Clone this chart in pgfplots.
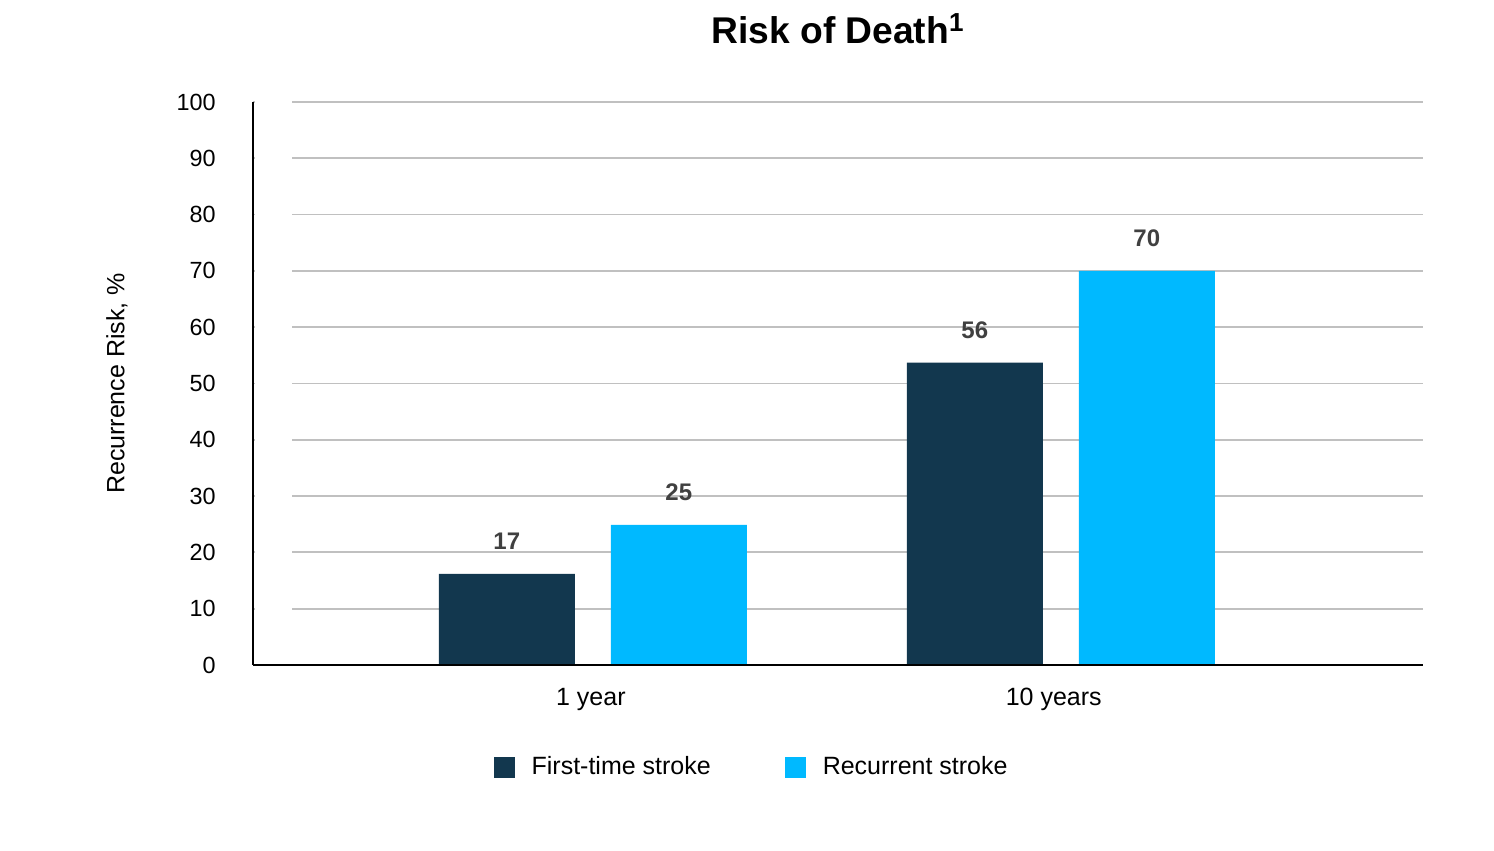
\documentclass[border=0pt]{standalone}
\usepackage{fontspec}
\setmainfont{Liberation Sans}
\usepackage{pgfplots}
\usepackage{pgfplotstable}
\pgfplotsset{compat=1.18}
\definecolor{navy}{HTML}{12374E}
\definecolor{sky}{HTML}{00B9FF}
\definecolor{gridgray}{HTML}{C0C0C0}
\definecolor{lblgray}{HTML}{404040}

\pgfplotstableread{
x y l
0 16.2 17
1 53.7 56
}\first
\pgfplotstableread{
x y l
0 24.9 25
1 70.0 70
}\recur

\begin{document}
\begin{tikzpicture}
\begin{axis}[
 scale only axis, width=585pt, height=281.5pt,
 xmin=-0.726, xmax=1.774, ymin=0, ymax=100,
 axis x line*=bottom, axis y line*=left,
 axis line style={black, line width=1pt, -},
 ybar, bar width=68pt,
 xtick={-0.004,0.985}, xticklabels={1 year,10 years},
 ytick={0,10,...,100},
 major tick length=0pt,
 ymajorgrids, major grid style={gridgray, line width=0.9pt},
 /pgf/number format/assume math mode=true,
 yticklabel style={font=\fontsize{11.7}{14}\selectfont, anchor=east, inner sep=0pt, xshift=-18.5pt},
 xticklabel style={font=\fontsize{12.5}{15}\selectfont, anchor=north, inner sep=0pt, yshift=-11.5pt},
 ylabel={Recurrence Risk, \%},
 every axis y label/.style={at={([xshift=-68pt]rel axis cs:0,0.5)}, rotate=90, anchor=center, font=\fontsize{12.5}{15}\selectfont},
 title={\textbf{Risk of Death\textsuperscript{1}}},
 every axis title/.style={at={(rel axis cs:0.5,1)}, anchor=base, yshift=29pt, font=\fontsize{18.6}{22}\selectfont},
 legend style={at={(rel axis cs:0.427,0)}, anchor=center, yshift=-51pt, draw=none, fill=none,
   legend columns=2, font=\fontsize{12.5}{15}\selectfont,
   /tikz/every even column/.append style={column sep=35pt}},
 legend image code/.code={\fill[#1] (0pt,-5.25pt) rectangle (10.5pt,5.25pt); \path (17pt,0pt);},
 nodes near coords, point meta=explicit symbolic,
 nodes near coords style={font=\bfseries\fontsize{12}{14}\selectfont, text=lblgray, anchor=south, inner sep=0pt, yshift=12pt},
]
\fill[white] ([shift={(1pt,1.5pt)}]rel axis cs:0,0) rectangle ([shift={(19.5pt,2pt)}]rel axis cs:0,1);
\addplot[fill=navy, draw=none, bar shift=-43pt] table[x=x,y=y,meta=l]{\first};
\addplot[fill=sky, draw=none, bar shift=43pt] table[x=x,y=y,meta=l]{\recur};
\legend{First-time stroke, Recurrent stroke}
\draw[black, line width=1pt] (rel axis cs:0,1) -- (rel axis cs:0,0) -- (rel axis cs:1,0);
\coordinate (O) at (rel axis cs:0,0);
\end{axis}
\pgfresetboundingbox
\path (O) ++(-126.5pt,-93pt) rectangle ++(747pt,425.5pt);
\end{tikzpicture}
\end{document}
